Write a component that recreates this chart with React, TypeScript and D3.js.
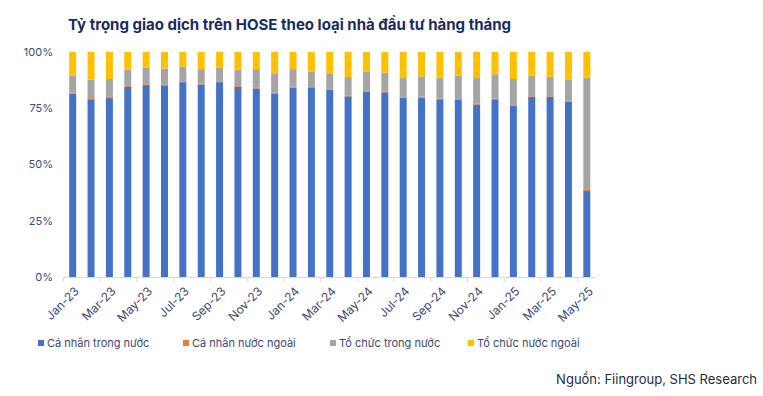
import React from "react";
import * as d3 from "d3";

// months Jan-23 .. May-25
const months = [
  "Jan-23", "Feb-23", "Mar-23", "Apr-23", "May-23", "Jun-23", "Jul-23", "Aug-23", "Sep-23", "Oct-23", "Nov-23", "Dec-23",
  "Jan-24", "Feb-24", "Mar-24", "Apr-24", "May-24", "Jun-24", "Jul-24", "Aug-24", "Sep-24", "Oct-24", "Nov-24", "Dec-24",
  "Jan-25", "Feb-25", "Mar-25", "Apr-25", "May-25",
];

// share of trading value (%)
const caNhanTrongNuoc = [
  81.5, 79.0, 79.5, 84.5, 85.3, 84.9, 86.6, 85.6, 86.6, 84.5, 83.8, 81.6,
  84.2, 84.0, 83.3, 80.3, 82.4, 82.1, 79.6, 79.8, 79.0, 78.8, 76.7, 79.0,
  76.0, 80.1, 80.1, 77.8, 38.2,
];
const caNhanNuocNgoai = [
  0.5, 0.5, 0.8, 0.4, 0.4, 0.4, 0.4, 0.4, 0.4, 0.4, 0.3, 0.3,
  0.4, 0.5, 0.3, 0.3, 0.3, 0.3, 0.3, 0.3, 0.3, 0.3, 0.3, 0.3,
  0.3, 0.3, 0.3, 0.3, 0.8,
];
const toChucTrongNuoc = [
  7.5, 8.2, 7.7, 7.2, 7.3, 7.3, 6.5, 6.4, 6.2, 7.2, 8.3, 8.6,
  7.8, 6.9, 6.9, 8.3, 8.7, 8.4, 8.5, 9.1, 9.3, 10.4, 11.4, 10.8,
  11.7, 9.1, 8.6, 9.6, 49.6,
];
const toChucNuocNgoai = months.map(
  (_, i) => +(100 - caNhanTrongNuoc[i] - caNhanNuocNgoai[i] - toChucTrongNuoc[i]).toFixed(1)
);

const seriesNames = ["Cá nhân trong nước", "Cá nhân nước ngoài", "Tổ chức trong nước", "Tổ chức nước ngoài"];
const seriesColors = ["#4472C4", "#ED7D31", "#A5A5A5", "#FFC000"];
const yTicks = [0, 25, 50, 75, 100];

const W = 763, H = 396;
const left = 63.5, right = 596, top = 52, bottom = 277;

export default function App() {
  const rows = months.map((m, i) => ({
    m,
    s0: caNhanTrongNuoc[i],
    s1: caNhanNuocNgoai[i],
    s2: toChucTrongNuoc[i],
    s3: toChucNuocNgoai[i],
  }));
  const stacked = d3.stack<any>().keys(["s0", "s1", "s2", "s3"])(rows);

  const x = d3.scaleBand().domain(months).range([left, right]).paddingInner(0.62).paddingOuter(0.31);
  const y = d3.scaleLinear().domain([0, 100]).range([bottom, top]);
  const step = x.step();

  const legendX = [38, 183, 330, 468];
  const labelColor = "#3d4a72";

  return (
    <svg width={W} height={H} style={{ position: "absolute", left: 0, top: 0, background: "#fff" }}
      fontFamily="Inter, 'Noto Sans', sans-serif">
      <text x={68} y={30} fontSize={15} fontWeight={700} fill="#1a2b5e">
        Tỷ trọng giao dịch trên HOSE theo loại nhà đầu tư hàng tháng
      </text>

      {yTicks.map((t) => (
        <text key={t} x={53} y={y(t)} dy="0.35em" textAnchor="end" fontSize={11} fill={labelColor}>
          {t}%
        </text>
      ))}

      {stacked.map((s, si) => (
        <g key={si} fill={seriesColors[si]}>
          {s.map((d, i) => (
            <rect key={i} x={x(months[i])} width={x.bandwidth()} y={y(d[1])} height={y(d[0]) - y(d[1])} />
          ))}
        </g>
      ))}

      <line x1={left} x2={right} y1={bottom + 0.5} y2={bottom + 0.5} stroke="#d9d9d9" />
      {months.map((m, i) =>
        i % 2 === 0 ? (
          <line key={m} x1={left + i * step} x2={left + i * step} y1={bottom} y2={bottom + 5} stroke="#d9d9d9" />
        ) : null
      )}
      {months.map((m, i) =>
        i % 2 === 0 ? (
          <text key={m} transform={`translate(${(x(m) as number) + x.bandwidth() / 2 + 4},${bottom + 12}) rotate(-45)`}
            textAnchor="end" dy="0.35em" fontSize={12} fill={labelColor}>
            {m}
          </text>
        ) : null
      )}

      {seriesNames.map((n, i) => (
        <g key={n} transform={`translate(${legendX[i]},343)`}>
          <rect x={0} y={-3} width={6} height={6} fill={seriesColors[i]} />
          <text x={9} y={0} dy="0.35em" fontSize={11} fill={labelColor}>{n}</text>
        </g>
      ))}

      <text x={757} y={384} textAnchor="end" fontSize={13} fill="#1f2a44">
        Nguồn: Fiingroup, SHS Research
      </text>
    </svg>
  );
}
